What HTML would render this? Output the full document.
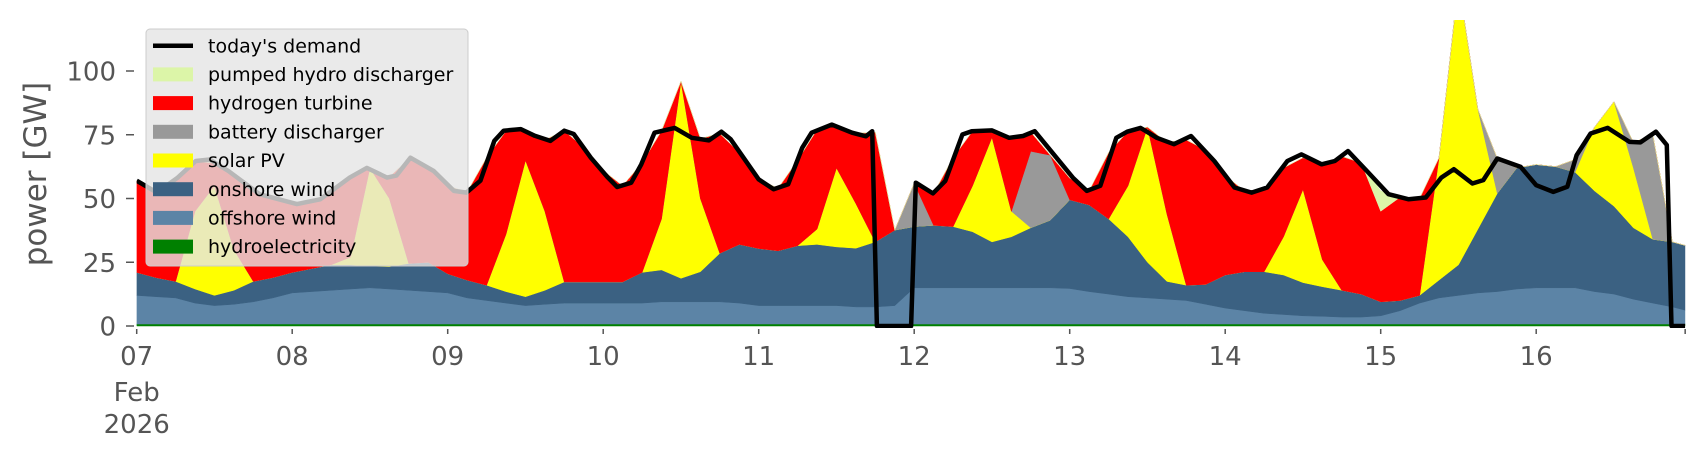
<!DOCTYPE html>
<html><head><meta charset="utf-8"><style>
html,body{margin:0;padding:0;background:#fff;}
svg{display:block;font-family:"DejaVu Sans","Liberation Sans",sans-serif;}
</style></head><body>
<svg id="chart" width="1706" height="460" viewBox="0 0 1706 460" xmlns="http://www.w3.org/2000/svg">
<defs><clipPath id="plotclip"><rect x="136.7" y="20" width="1548.5" height="308"/></clipPath></defs>
<g id="areas" clip-path="url(#plotclip)"></g>
<g id="demandg" clip-path="url(#plotclip)"></g>
<g id="yaxis"></g>
<g id="xaxis"></g>
<text x="0" y="0" transform="translate(46,174) rotate(-90)" text-anchor="middle" font-size="31" fill="#555">power [GW]</text>
<g id="legend"></g>
</svg>
<script>
const stackT = Array.from({length:80},(_,i)=>i/8).concat([9.958]);
const hydro = stackT.map(()=>0.8);
const offshore = [11.2,10.7,10.2,8.2,7.2,7.7,8.7,10.2,12.2,12.7,13.2,13.7,14.2,13.7,13.2,12.7,12.2,10.2,9.2,8.2,7.2,7.7,8.2,8.2,8.2,8.2,8.2,8.7,8.7,8.7,8.7,8.2,7.2,7.2,7.2,7.2,7.2,6.7,6.7,7.2,14.2,14.2,14.2,14.2,14.2,14.2,14.2,14.2,13.9,12.7,11.7,10.7,10.2,9.7,9.2,7.7,6.2,5.2,4.2,3.7,3.2,3.0,2.7,2.7,3.2,5.2,8.2,10.2,11.2,12.2,12.7,13.7,14.2,14.2,14.2,12.7,11.7,9.7,8.2,6.7,5.4];
const onshore = [9,7.5,6.5,5.5,4,5.5,8,8,8,9,10,9.5,8.5,8.8,10.5,11.5,7.5,7,6,4.5,3.5,5.5,8.3,8.3,8.3,8.3,12,12.5,9.2,11.8,19,23,22.4,21.5,23.5,24,23,23,25.5,29.6,24,24.5,24,22,18,20,23.5,26.5,34.8,34,29.5,23.5,14,7,6,7.8,13,15.3,16.3,15.5,13,11.6,10.5,9,5.5,4,3,7,12,25,38.5,47.5,48.3,47.5,45.3,39.5,34.5,28,25,25.5,25.4];
const solar = [0,0,0,30.5,43,16,0,0,0,0,0,3,38.5,26.7,0,0,0,0,0,22.5,53.5,31,0,0,0,0,0,20,77.3,28.7,0,0,0,0,0,6,31,17.5,0,0,0,0,0,18,41,10,0,0,0,0,0,20,53,26.5,0,0,0,0,0,15,36.6,10.6,0,0,0,0,0,48,111,47,0,0,0,0,0,25,41,23.5,0,0,0];
const battery = [0,0,0,0,0,0,0,0,0,0,0,0,0,0,0,0,0,0,0,0,0,0,0,0,0,0,0,0,0,0,0,0,0,0,0,0,0,0,0,0,17,0,0,0,0,0,30,25.5,0,0,0,0,0,0,0,0,0,0,0,0,0,0,0,0,0,0,0,0,0,0,13.7,0,0,0,5,0,0,10,41,0,0];
const hydrogen = [36,33.5,40.5,19.5,9,30,35.5,31,27,26.5,28.5,31.2,0,8.5,41,37.5,34.5,34.5,50,40.5,11.5,28,59.3,52.7,43.7,37.7,43,34.5,0,23.5,47,36,27.1,24.5,33.5,39,16.5,27.5,43,0,0,12.5,27,21.4,2.7,29,7.5,0,8.5,5.5,26,21.3,0,28,57,52.7,39,31.7,32.2,27,12.4,37.4,52.5,51.5,35.5,40.5,38,0,0,0,0,0,0,0,0,0,0,0,0,0,0];
const pumped = stackT.map((t,i)=> i===64 ? 8 : 0);
const demandT = [0,0.13,0.26,0.38,0.47,0.59,0.79,1.03,1.18,1.37,1.48,1.61,1.67,1.76,1.91,2.04,2.12,2.21,2.30,2.36,2.47,2.56,2.66,2.75,2.81,2.92,3.03,3.09,3.18,3.245,3.33,3.46,3.57,3.68,3.76,3.82,4.0,4.096,4.19,4.28,4.34,4.47,4.6,4.69,4.73,4.76,4.98,5.01,5.12,5.2,5.31,5.37,5.5,5.61,5.7,5.775,6.02,6.11,6.197,6.30,6.37,6.455,6.56,6.67,6.78,6.93,7.06,7.17,7.27,7.40,7.49,7.62,7.705,7.79,7.92,8.05,8.18,8.29,8.39,8.47,8.59,8.66,8.75,8.90,9.0,9.11,9.20,9.26,9.35,9.46,9.60,9.67,9.77,9.84,9.87,9.958];
const demandV = [57,52.3,58,64.7,65.3,60.8,51.7,47.8,49.7,58.2,62,58.2,59,66,60.8,53,52.3,57,72.6,76.6,77.2,74.6,72.6,76.6,75.3,66,58.2,54.5,56.2,63.4,75.8,77.7,73.8,72.8,76.2,73.2,57.5,53.6,55.6,69.9,75.8,79,75.8,74.4,76.4,0,0,56.2,52,56.9,75.1,76.4,76.7,73.8,74.5,76.4,58.2,53,55,73.8,76.2,77.7,73.8,71.3,74.5,64.7,54.3,52.3,54.3,64.7,67.3,63.4,64.7,68.6,60.2,51.7,49.7,50.4,58.2,61.5,55.9,57.2,65.7,62.4,55.2,52.6,54.6,67,75.5,77.7,72.2,72,76.2,71,0,0];
const yTicks = [0,25,50,75,100];
const dayLabels = ["07","08","09","10","11","12","13","14","15","16"];

const NS="http://www.w3.org/2000/svg";
const X0=136.7, DAY=155.5, Y0=326, K=2.55;
function xs(t){return X0+DAY*t;}
function ys(v){return Y0-K*v;}
function mk(tag,attrs,parent){const e=document.createElementNS(NS,tag);for(const k in attrs)e.setAttribute(k,attrs[k]);parent.appendChild(e);return e;}

const series=[
 {name:"hydroelectricity",vals:hydro,color:"#008000",dn:"area-hydroelectricity"},
 {name:"offshore wind",vals:offshore,color:"#5c84a6",dn:"area-offshore-wind"},
 {name:"onshore wind",vals:onshore,color:"#3b6182",dn:"area-onshore-wind"},
 {name:"solar PV",vals:solar,color:"#ffff00",dn:"area-solar-pv"},
 {name:"battery discharger",vals:battery,color:"#999999",dn:"area-battery-discharger"},
 {name:"hydrogen turbine",vals:hydrogen,color:"#ff0000",dn:"area-hydrogen-turbine"},
 {name:"pumped hydro discharger",vals:pumped,color:"#dcf5a8",dn:"area-pumped-hydro"}
];
const areas=document.getElementById('areas');
let base=stackT.map(()=>0);
series.forEach(s=>{
  const top=base.map((b,i)=>b+s.vals[i]);
  let d="M"+stackT.map((t,i)=>xs(t).toFixed(1)+","+ys(top[i]).toFixed(1)).join("L");
  for(let i=stackT.length-1;i>=0;i--) d+="L"+xs(stackT[i]).toFixed(1)+","+ys(base[i]).toFixed(1);
  d+="Z";
  const p=mk('path',{d:d,fill:s.color,stroke:s.color,'stroke-width':0.5},areas);
  
  
  base=top;
});
const dg=document.getElementById('demandg');
const dl=mk('polyline',{points:demandT.map((t,i)=>xs(t).toFixed(1)+","+ys(demandV[i]).toFixed(1)).join(" "),fill:"none",stroke:"#000","stroke-width":4.5,"stroke-linejoin":"round"},dg);



const ya=document.getElementById('yaxis');
yTicks.forEach(v=>{
  const tk=mk('line',{x1:126,x2:134,y1:ys(v),y2:ys(v),stroke:"#555","stroke-width":1.5},ya);
  
  
  const tx=mk('text',{x:116,y:ys(v)+9.5,'text-anchor':'end','font-size':26,fill:'#555'},ya);
  tx.textContent=String(v);
  
  
});
const xa=document.getElementById('xaxis');
dayLabels.forEach((lab,i)=>{
  const tk=mk('line',{x1:xs(i),x2:xs(i),y1:329,y2:334,stroke:"#555","stroke-width":1.5},xa);
  
  
  const tx=mk('text',{x:xs(i),y:365,'text-anchor':'middle','font-size':26,fill:'#555'},xa);
  tx.textContent=lab;
  
  
});
const te=mk('line',{x1:xs(9.958),x2:xs(9.958),y1:329,y2:334,stroke:"#555","stroke-width":1.5},xa);


["Feb","2026"].forEach((s,j)=>{
  const tx=mk('text',{x:xs(0),y:401+j*32,'text-anchor':'middle','font-size':26,fill:'#555'},xa);
  tx.textContent=s;
  
  
});

const lg=document.getElementById('legend');
const bx=mk('rect',{x:146,y:29,width:322,height:237,rx:4,fill:"#e5e5e5","fill-opacity":0.8,stroke:"#cccccc","stroke-width":1},lg);


const entries=[["today's demand","#000","line"]].concat(series.slice().reverse().map(s=>[s.name,s.color,"patch"]));
entries.forEach((e,i)=>{
  const cy=45.7+i*28.7;
  const g=mk('g',{},lg);
  
  
  if(e[2]==="line") mk('line',{x1:153,x2:193,y1:cy,y2:cy,stroke:"#000","stroke-width":4.5},g);
  else mk('rect',{x:153,y:cy-7,width:40,height:14,fill:e[1]},g);
  const t=mk('text',{x:208,y:cy+6.6,'font-size':19,fill:'#000'},g);
  t.textContent=e[0];
});
</script>
</body></html>
